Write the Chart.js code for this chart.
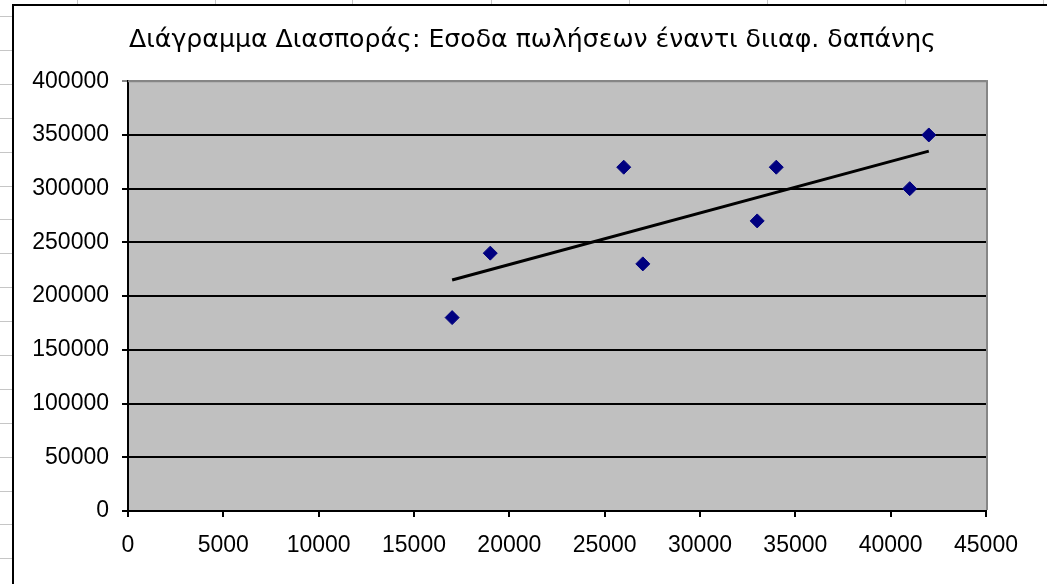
<!DOCTYPE html>
<html>
<head>
<meta charset="utf-8">
<script src="https://cdn.jsdelivr.net/npm/chart.js@4"></script>
<style>
html,body{margin:0;padding:0;background:#fff;}
#wrap{width:1047px;height:584px;position:relative;}
canvas{display:block;}
</style>
</head>
<body>
<div id="wrap"><canvas id="c" width="1047" height="584"></canvas></div>
<script>
// ---- data ----
const titleText = "Διάγραμμα Διασποράς: Εσοδα πωλήσεων έναντι διιαφ. δαπάνης";
const expenseX = [17000, 19000, 26000, 27000, 33000, 34000, 41000, 42000];
const revenueY = [180000, 240000, 320000, 230000, 270000, 320000, 300000, 350000];
const trendX = [17000, 42000];
const trendY = [215000, 335000];
const xTicks = [0, 5000, 10000, 15000, 20000, 25000, 30000, 35000, 40000, 45000];
const yTicks = [0, 50000, 100000, 150000, 200000, 250000, 300000, 350000, 400000];

const FONT = "'Liberation Sans', Arial, sans-serif";
const TITLE_FONT = "'DejaVu Sans', Verdana, sans-serif";

const pagePlugin = {
  id: 'page',
  beforeDraw(chart) {
    const ctx = chart.ctx;
    const a = chart.chartArea;
    ctx.save();
    ctx.fillStyle = '#fff';
    ctx.fillRect(0, 0, chart.width, chart.height);
    // spreadsheet cell lines visible around the chart object
    ctx.fillStyle = '#c6c6c6';
    [77, 215, 352, 491, 629, 767, 905, 1043].forEach(x => ctx.fillRect(x, 0, 1, 4));
    for (let y = 16; y < chart.height; y += 33.9) ctx.fillRect(0, Math.round(y), 12, 1);
    // chart object frame
    ctx.fillStyle = '#000';
    ctx.fillRect(12, 4, 2, chart.height);
    ctx.fillRect(12, 4, chart.width, 2);
    // plot area
    ctx.fillStyle = '#c0c0c0';
    ctx.fillRect(a.left, a.top, a.right - a.left, a.bottom - a.top);
    ctx.restore();
  },
  afterDraw(chart) {
    const ctx = chart.ctx;
    const a = chart.chartArea;
    ctx.save();
    ctx.fillStyle = '#868686';
    ctx.fillRect(a.left, a.top - 1, a.right - a.left + 2, 2);
    ctx.fillRect(a.right, a.top - 1, 2, a.bottom - a.top);
    ctx.restore();
  }
};

new Chart(document.getElementById('c'), {
  type: 'scatter',
  data: {
    datasets: [
      {
        type: 'line',
        data: trendX.map((x, i) => ({x: x, y: trendY[i]})),
        borderColor: '#000',
        borderWidth: 3,
        pointRadius: 0,
        fill: false,
        order: 2
      },
      {
        data: expenseX.map((x, i) => ({x: x, y: revenueY[i]})),
        pointStyle: 'rectRot',
        pointRadius: 7,
        backgroundColor: '#000080',
        borderColor: '#000080',
        borderWidth: 1,
        order: 1
      }
    ]
  },
  options: {
    responsive: false,
    animation: false,
    devicePixelRatio: 1,
    layout: { padding: { left: 20, right: 2, top: 0, bottom: 0 } },
    plugins: {
      legend: { display: false },
      tooltip: { enabled: false },
      title: {
        display: true,
        text: titleText,
        color: '#000',
        font: { family: TITLE_FONT, size: 25.2, weight: 'normal', lineHeight: 1.2 },
        padding: { top: 25, bottom: 26 }
      }
    },
    scales: {
      x: {
        type: 'linear',
        min: 0, max: 45000,
        afterBuildTicks(s) { s.ticks = xTicks.map(v => ({value: v})); },
        afterFit(s) { s.height = 73; },
        grid: { drawOnChartArea: false, drawTicks: true, tickLength: 6, color: '#000', lineWidth: 2 },
        border: { display: true, color: '#000', width: 2 },
        ticks: { color: '#000', font: { family: FONT, size: 23 }, padding: 15, maxRotation: 0, autoSkip: false, callback: v => String(v) }
      },
      y: {
        type: 'linear',
        min: 0, max: 400000,
        afterBuildTicks(s) { s.ticks = yTicks.map(v => ({value: v})); },
        afterFit(s) { s.width = 108; },
        grid: {
          drawTicks: true, tickLength: 6, lineWidth: 2,
          color: c => (c.tick && c.tick.value === 400000) ? '#868686' : '#000'
        },
        border: { display: true, color: '#000', width: 2 },
        ticks: { color: '#000', font: { family: FONT, size: 23 }, padding: 13, autoSkip: false, callback: v => String(v) }
      },
      yPad: {
        type: 'linear',
        position: 'right',
        display: true,
        afterFit(s) { s.width = 59; },
        grid: { display: false },
        border: { display: false },
        ticks: { display: false }
      }
    }
  },
  plugins: [pagePlugin]
});
</script>
</body>
</html>
